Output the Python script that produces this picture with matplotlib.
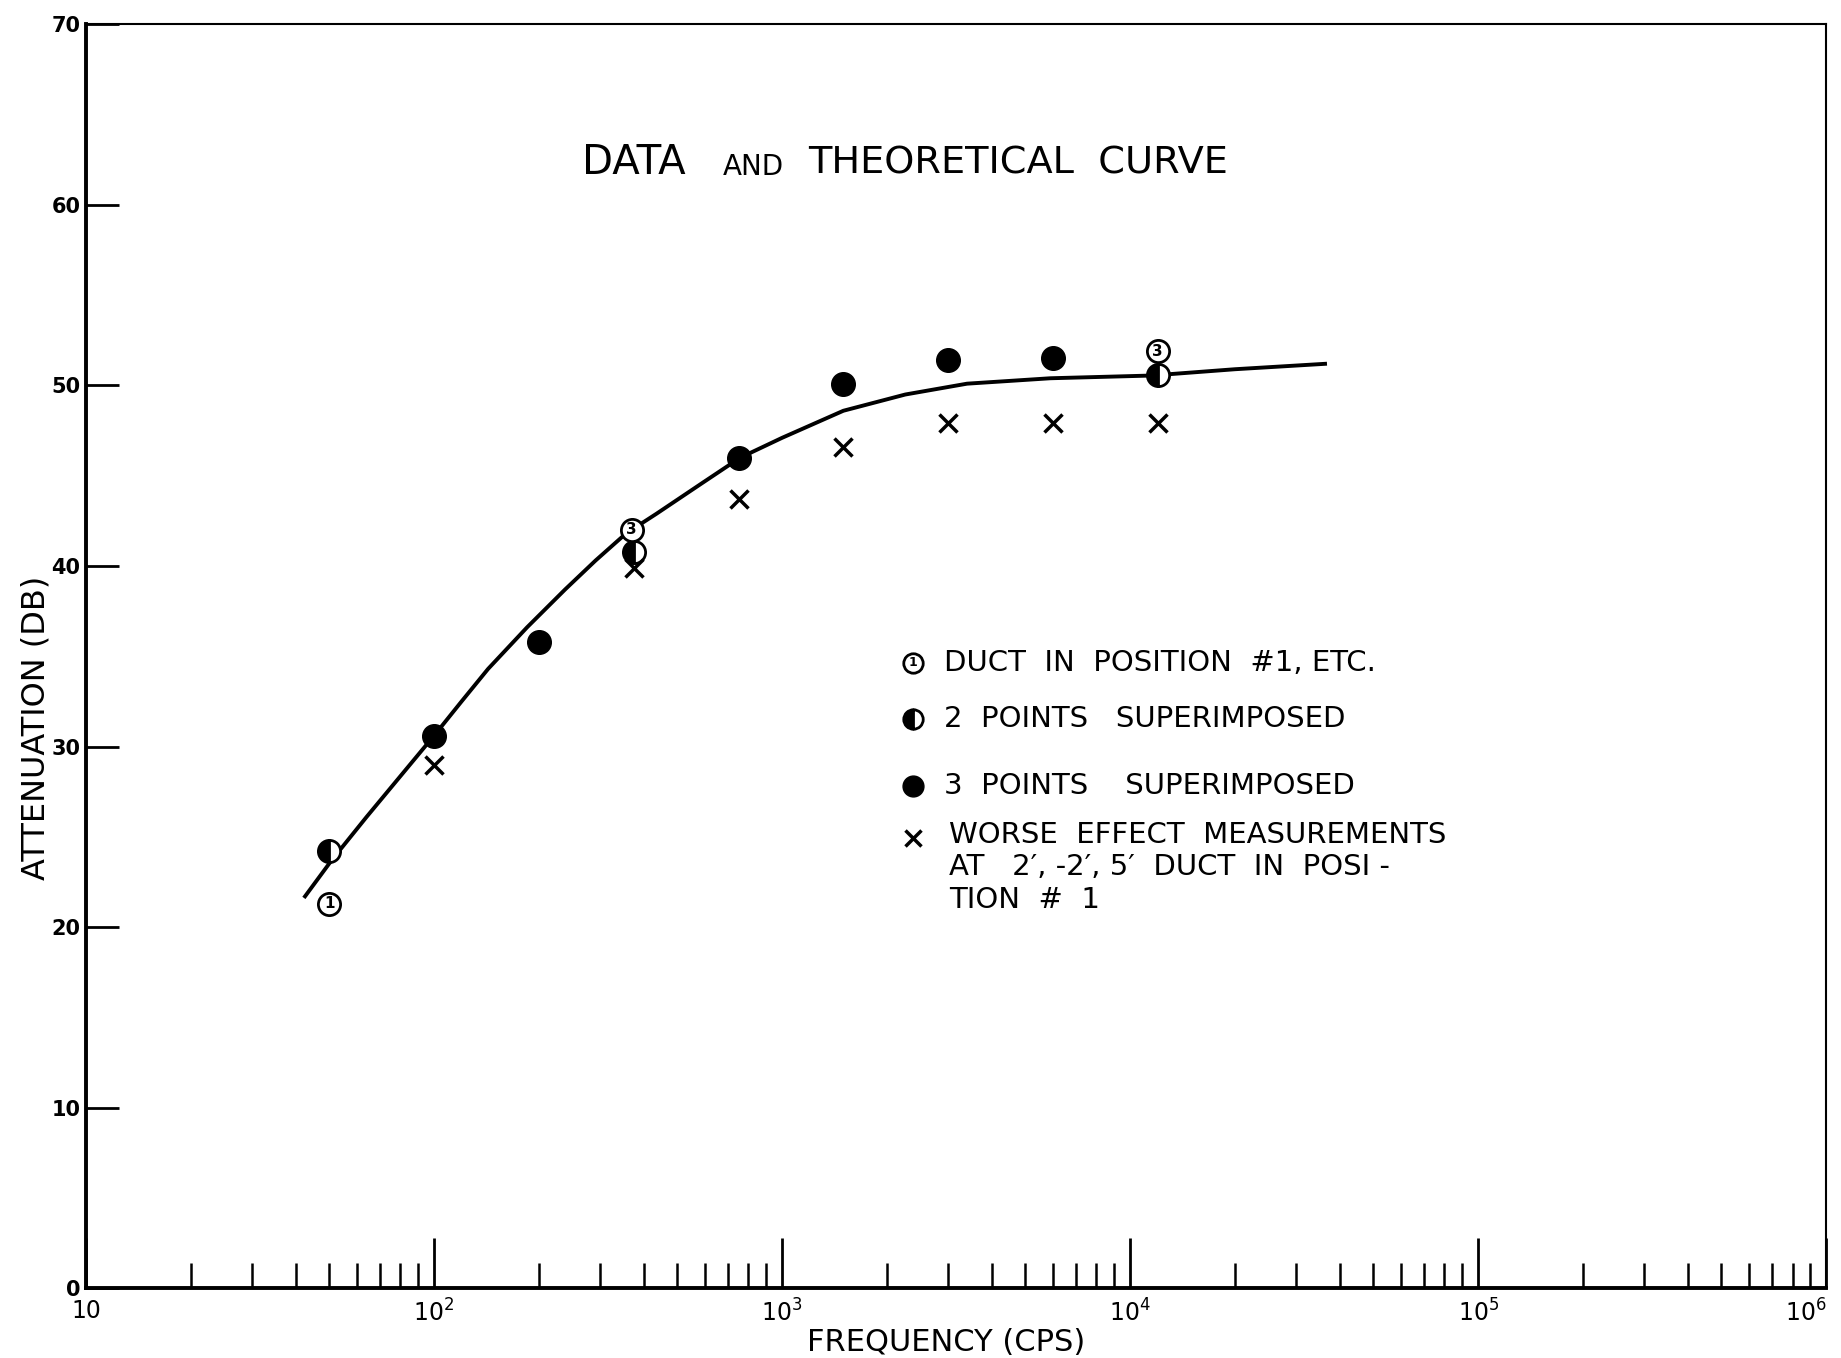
import matplotlib.pyplot as plt
from matplotlib.ticker import LogLocator, FixedLocator, NullFormatter

# theoretical curve
curve_freq = [42.6, 50.8, 64, 82, 100, 120, 143, 185, 238, 291, 356, 436, 590, 758,
              1000, 1500, 2260, 3400, 5900, 11500, 20000, 36300]
curve_db = [21.7, 23.7, 26.1, 28.6, 30.6, 32.5, 34.3, 36.6, 38.7, 40.3, 41.8, 42.9, 44.6, 46.0,
            47.1, 48.6, 49.5, 50.1, 50.4, 50.55, 50.9, 51.2]

# single points (circled number = duct position)
single_freq = [50, 370, 12000]
single_db = [21.3, 42.0, 51.9]
single_tag = ['1', '3', '3']

# two points superimposed
half_freq = [50, 375, 12000]
half_db = [24.2, 40.8, 50.6]

# three points superimposed
full_freq = [100, 200, 750, 1500, 3000, 6000]
full_db = [30.6, 35.8, 46.0, 50.1, 51.4, 51.5]

# worse effect measurements
worse_freq = [100, 375, 750, 1500, 3000, 6000, 12000]
worse_db = [29.0, 39.9, 43.7, 46.6, 47.9, 47.9, 47.9]

y_ticks = [0, 10, 20, 30, 40, 50, 60, 70]
x_ticks = [10, 100, 1000, 10000, 100000, 1000000]
x_labels = ['10', '$10^2$', '$10^3$', '$10^4$', '$10^5$', '$10^6$']

legend_rows = [
    ('single', 'DUCT  IN  POSITION  #1, ETC.'),
    ('half', '2  POINTS   SUPERIMPOSED'),
    ('full', '3  POINTS    SUPERIMPOSED'),
    ('x', 'WORSE  EFFECT  MEASUREMENTS\nAT   2\u2032, -2\u2032, 5\u2032  DUCT  IN  POSI -\nTION  #  1'),
]

plt.rcParams['font.family'] = ['DejaVu Sans']

fig = plt.figure(figsize=(18.41, 13.58), dpi=100)
ax = fig.add_axes([0.0467, 0.0515, 0.9453, 0.9305])
ax.set_xscale('log')
ax.set_xlim(10, 1e6)
ax.set_ylim(0, 70)

ax.plot(curve_freq, curve_db, color='black', lw=2.8, zorder=2, solid_joinstyle='round')

ax.plot(full_freq, full_db, 'o', ms=17, color='black', zorder=3)
ax.plot(half_freq, half_db, 'o', ms=16, fillstyle='left', markerfacecolor='black',
        markerfacecoloralt='white', markeredgecolor='black', mew=2, zorder=3)
ax.plot(single_freq, single_db, 'o', ms=16, markerfacecolor='white',
        markeredgecolor='black', mew=2, zorder=4)
for f, d, t in zip(single_freq, single_db, single_tag):
    ax.text(f, d, t, ha='center', va='center', fontsize=11, fontweight='bold', zorder=5)
ax.plot(worse_freq, worse_db, 'x', ms=13, mew=2.5, color='black', zorder=3)

# legend drawn by hand, in axes fractions
leg_x = 0.475
leg_tx = 0.493
leg_y = [0.495, 0.45, 0.397, 0.356]
for (kind, label), yy in zip(legend_rows, leg_y):
    if kind == 'single':
        ax.plot(leg_x, yy, 'o', ms=14, mfc='white', mec='black', mew=2, transform=ax.transAxes)
        ax.text(leg_x, yy, '1', ha='center', va='center', fontsize=9, fontweight='bold', transform=ax.transAxes)
    elif kind == 'half':
        ax.plot(leg_x, yy, 'o', ms=14, fillstyle='left', mfc='black', markerfacecoloralt='white',
                mec='black', mew=2, transform=ax.transAxes)
    elif kind == 'full':
        ax.plot(leg_x, yy, 'o', ms=15, color='black', transform=ax.transAxes)
    else:
        ax.plot(leg_x, yy, 'x', ms=11, mew=2.5, color='black', transform=ax.transAxes)
    if '\n' in label:
        ax.text(leg_tx + 0.003, yy + 0.014, label, ha='left', va='top', fontsize=21,
                linespacing=1.22, transform=ax.transAxes)
    else:
        ax.text(leg_tx, yy, label, ha='left', va='center', fontsize=21, transform=ax.transAxes)

# title
ax.text(0.285, 0.89, 'DATA', fontsize=29, ha='left', va='center', transform=ax.transAxes)
ax.text(0.366, 0.887, 'AND', fontsize=20, ha='left', va='center', transform=ax.transAxes)
ax.text(0.415, 0.89, 'THEORETICAL  CURVE', fontsize=27.5, ha='left', va='center', transform=ax.transAxes)

ax.set_yticks(y_ticks)
ax.set_yticklabels([str(v) for v in y_ticks], fontsize=15, fontweight='bold')
ax.xaxis.set_major_locator(FixedLocator(x_ticks))
ax.set_xticklabels(x_labels, fontsize=17)
ax.get_xticklabels()[-1].set_horizontalalignment('right')
ax.xaxis.set_minor_locator(LogLocator(base=10, subs=range(2, 10), numticks=20))
ax.xaxis.set_minor_formatter(NullFormatter())
ax.tick_params(axis='x', which='major', direction='in', length=36, width=2, pad=8)
ax.tick_params(axis='x', which='minor', direction='in', length=18, width=1.8)
ax.tick_params(axis='y', which='major', direction='in', length=24, width=2, pad=4)

ax.set_xlabel('FREQUENCY (CPS)', fontsize=22)
ax.xaxis.set_label_coords(0.494, -0.032)
ax.set_ylabel('ATTENUATION (DB)', fontsize=23)
ax.yaxis.set_label_coords(-0.02, 0.443)

for side in ['left', 'bottom']:
    ax.spines[side].set_linewidth(2.8)
for side in ['top', 'right']:
    ax.spines[side].set_linewidth(1.5)

fig.savefig('out.png', dpi=100, facecolor='white')
